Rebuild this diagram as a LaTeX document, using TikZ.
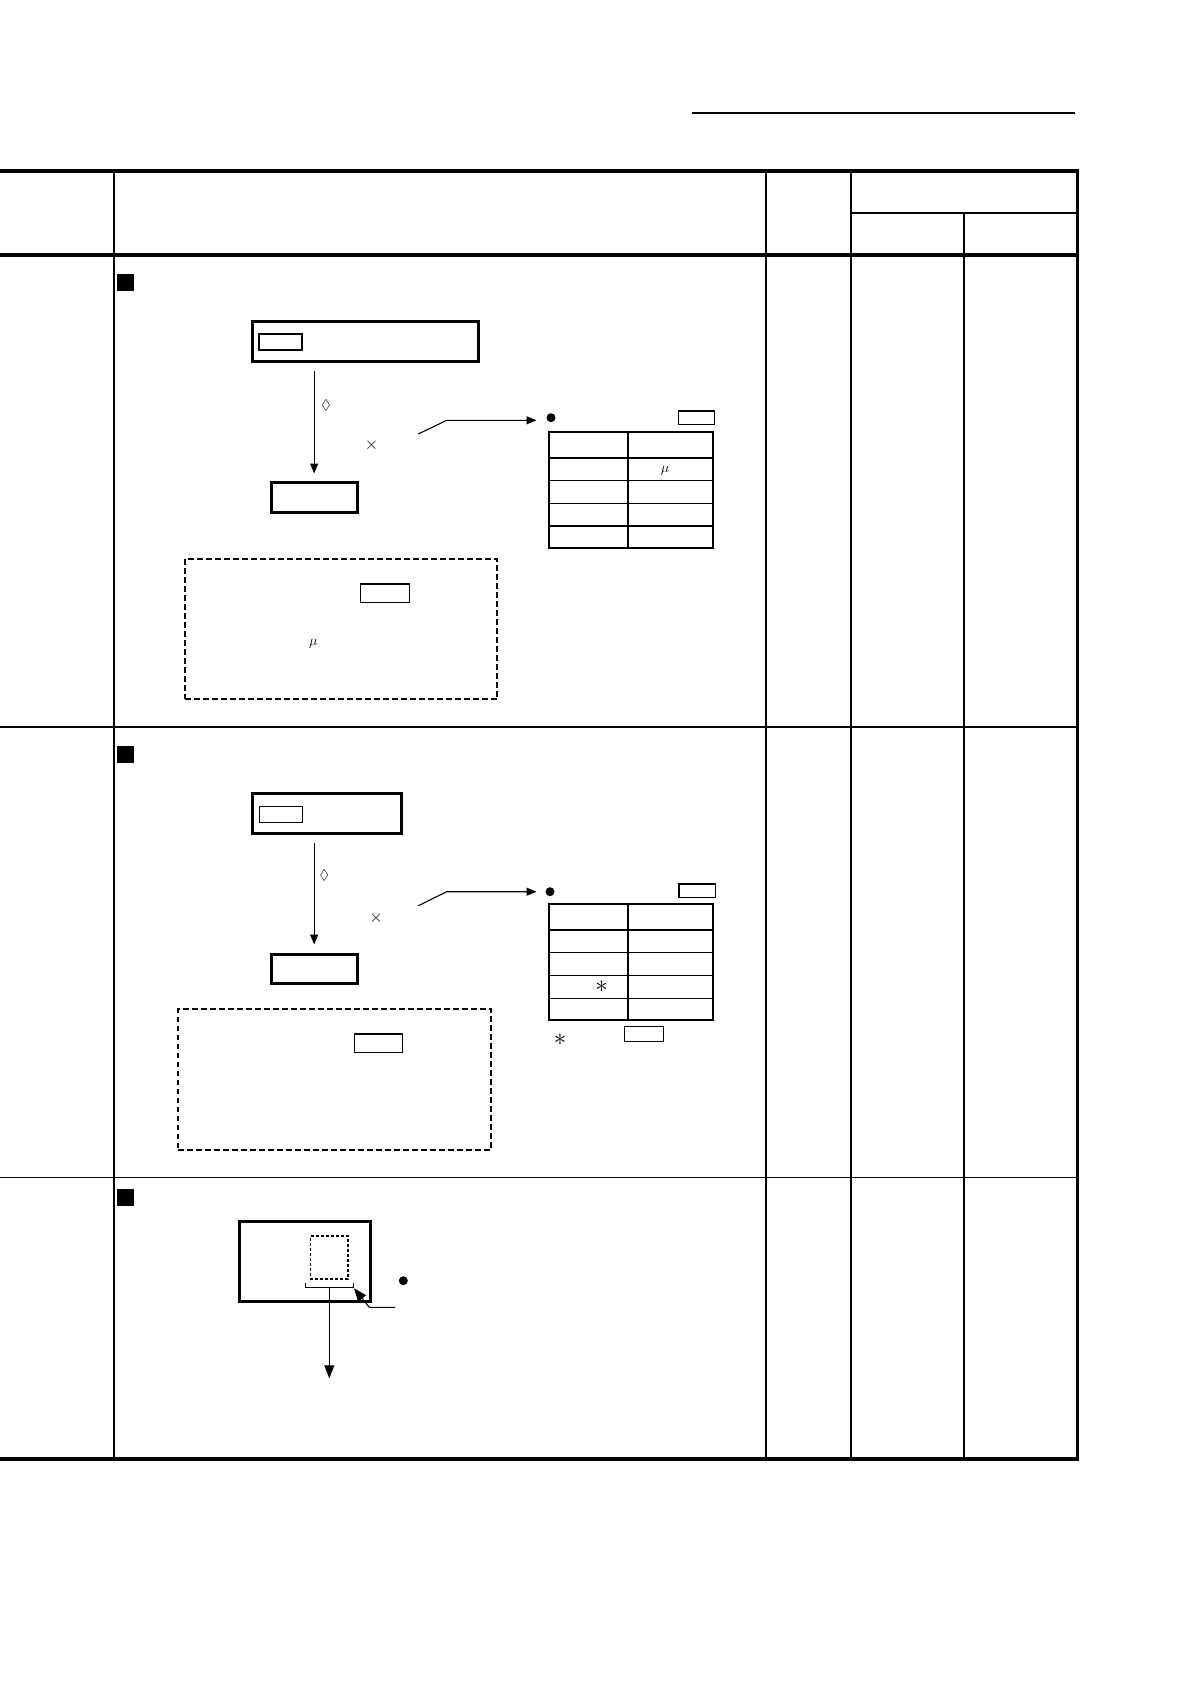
\documentclass[tikz,border=0pt]{standalone}
\usepackage{amssymb}
\usetikzlibrary{arrows.meta,fit}
\begin{document}
\begin{tikzpicture}[x=1pt,y=-1pt,
 thickbox/.style={draw, line width=3pt, inner sep=0pt},
 thinbox/.style={draw, line width=1.1pt, inner sep=0pt},
 dashbox/.style={draw, line width=2pt, dash pattern=on 5.5pt off 3.5pt, inner sep=0pt},
 dotbox/.style={draw, line width=1.2pt, dash pattern=on 3pt off 2pt, inner sep=0pt},
 tablebox/.style={draw, line width=2pt, inner sep=0pt},
 arr/.style={line width=1.1pt, -{Triangle[length=10pt,width=8pt]}},
 bigarr/.style={line width=1.1pt, -{Triangle[length=13pt,width=10pt]}},
 dotmark/.style={circle, fill, inner sep=0pt, minimum size=9pt},
 sqmark/.style={fill, inner sep=0pt, minimum size=17pt},
 sym/.style={inner sep=0pt},
 frame/.style={line width=3.2pt},
 colrule/.style={line width=2pt},
 thinrule/.style={line width=1.3pt},
 tabmain/.style={line width=2pt},
 tabthin/.style={line width=1.3pt}
]
\useasboundingbox (0,0) rectangle (1190,1684);

% header rule
\draw[line width=1.4pt] (692,113) -- (1075,113);

% table frame
\draw[frame] (0,171) -- (1077.5,171) -- (1077.5,1459) -- (0,1459);
\draw[frame] (0,255) -- (1077.5,255);
\draw[colrule] (114,171) -- (114,1459);
\draw[colrule] (766,171) -- (766,1459);
\draw[colrule] (851,171) -- (851,1459);
\draw[line width=1.5pt] (851,213) -- (1077.5,213);
\draw[thinrule] (964,213) -- (964,1459);
\draw[line width=1.9pt] (0,726.7) -- (1077.5,726.7);
\draw[thinrule] (0,1177.3) -- (1077.5,1177.3);

% ---------- section 1 ----------
\node[sqmark] (s1) at (125.4,282.4) {};
\node[thickbox, fit={(252.7,321.7) (478.3,361.7)}] (a1) {};
\node[thinbox, fit={(259,334) (302,350)}] (a1k) {};
\node[thickbox, fit={(271,482.7) (357.3,512.3)}] (a2) {};
\draw[arr, shorten <=8pt, shorten >=7.7pt] (a2.north |- a1.south) -- (a2.north);
\node[sym] (d1) at (326,405) {\fontsize{14}{14}\selectfont$\lozenge$};
\node[sym] (x1) at (371.7,445) {\fontsize{18}{18}\selectfont$\times$};
\coordinate (l1a) at (418.3,434);
\coordinate (l1b) at (446.7,420.3);
\node[dotmark] (o1) at (551,417.7) {};
\draw[arr, shorten >=9.8pt] (l1a) -- (l1b) -- (l1b -| o1.west);
\node[thinbox, fit={(678.3,411) (714.3,424.7)}] (t1k) {};
\node[tablebox, fit={(548.7,432.3) (713.3,548.3)}] (t1) {};
\draw[tabmain] (628.3,432.3) -- (628.3,548.3);
\draw[tabmain] (548.7,458.3) -- (713.3,458.3);
\foreach \yy in {480.3,503.3,526} \draw[tabthin] (548.7,\yy) -- (713.3,\yy);
\node[sym] (m1) at (665,470.7) {\fontsize{14}{14}\selectfont$\mu$};
\node[dashbox, fit={(185,559) (497.3,699.3)}] (n1) {};
\node[thinbox, fit={(360.7,584) (409.3,602.3)}] (n1k) {};
\node[sym] (m2) at (313.3,643.3) {\fontsize{14}{14}\selectfont$\mu$};

% ---------- section 2 ----------
\node[sqmark] (s2) at (125.4,754.4) {};
\node[thickbox, fit={(252.7,793.3) (401.7,833.7)}] (b1) {};
\node[thinbox, fit={(259.3,806.3) (302.7,822.3)}] (b1k) {};
\node[thickbox, fit={(271,954.3) (357.3,983.3)}] (b2) {};
\draw[arr, shorten <=8pt, shorten >=8.3pt] (b2.north |- b1.south) -- (b2.north);
\node[sym] (d2) at (324.3,875) {\fontsize{14}{14}\selectfont$\lozenge$};
\node[sym] (x2) at (376,918.3) {\fontsize{18}{18}\selectfont$\times$};
\coordinate (l2a) at (418.3,905.7);
\coordinate (l2b) at (446.7,891.7);
\node[dotmark] (o2) at (550,891.7) {};
\draw[arr, shorten >=8.8pt] (l2a) -- (l2b) -- (o2.west);
\node[thinbox, fit={(679,884) (715.7,897.3)}] (t2k) {};
\node[tablebox, fit={(549,904.3) (713.3,1020.3)}] (t2) {};
\draw[tabmain] (628.3,904.3) -- (628.3,1020.3);
\draw[tabmain] (549,930.3) -- (713.3,930.3);
\foreach \yy in {952.7,975.7,998.3} \draw[tabthin] (549,\yy) -- (713.3,\yy);
\node[sym] (ast1) at (601.7,987) {\fontsize{26}{26}\selectfont$\ast$};
\node[sym] (ast2) at (560,1039.5) {\fontsize{26}{26}\selectfont$\ast$};
\node[thinbox, fit={(624.3,1026.7) (663.3,1041.7)}] (t2n) {};
\node[dashbox, fit={(178.3,1009) (491,1150)}] (n2) {};
\node[thinbox, fit={(354.3,1034) (402.7,1052.7)}] (n2k) {};

% ---------- section 3 ----------
\node[sqmark] (s3) at (125.4,1197) {};
\node[thickbox, fit={(239.3,1221.7) (370.7,1301.7)}] (c1) {};
\node[dotbox, fit={(310.3,1236) (348,1279)}] (c2) {};
\coordinate (bl) at (305.3,1282.7);
\coordinate (brr) at (353.3,1282.7);
\coordinate (bm) at (329.3,1287.7);
\draw[line width=1.1pt] (bl) -- (bl |- bm) -- (brr |- bm) -- (brr);
\coordinate (c3) at (329.3,1378.3);
\draw[bigarr] (bm) -- (c3);
\coordinate (p1) at (395,1307.3);
\coordinate (p2) at (369.3,1307.3);
\coordinate (pt) at (354,1288.3);
\draw[bigarr] (p1) -- (p2) -- (pt);
\node[dotmark] (o3) at (403.3,1280.7) {};
\end{tikzpicture}
\end{document}
